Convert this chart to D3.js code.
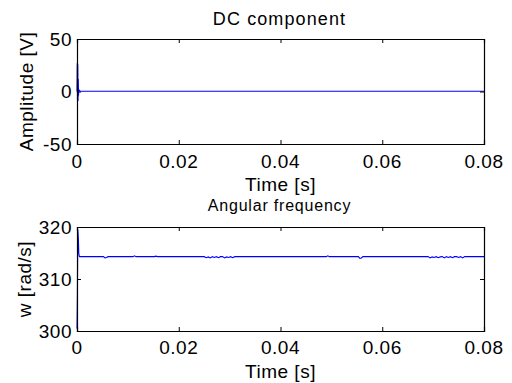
<!DOCTYPE html>
<html>
<head>
<meta charset="utf-8">
<script src="https://cdn.jsdelivr.net/npm/d3@7"></script>
<style>
  body { margin: 0; background: #fff; }
  text { font-family: "Liberation Sans", Arial, sans-serif; fill: #000; }
</style>
</head>
<body>
<div id="chart"></div>
<script>
///////////////////////////// DATA /////////////////////////////////////

// DC component (top panel)
const dcTime  = [0, 0.00005, 0.0001, 0.00015, 0.0002, 0.00025, 0.0003, 0.00035, 0.0004, 0.0006, 0.02, 0.04, 0.06, 0.08];
const dcValue = [0, 27, -8, 26, -9, 12, -4, 2, 1.2, 0.3, 0.3, 0.3, 0.3, 0.3];

// Angular frequency (bottom panel)
const wTime = [0, 0.00008, 0.00015, 0.0002, 0.00028, 0.00035, 0.0004, 0.0005, 0.0008,
  0.0052, 0.0055, 0.0058, 0.0061, 0.0110, 0.0113, 0.0116, 0.0152, 0.0155, 0.0158,
  0.0250, 0.0254, 0.0258, 0.0262, 0.0266, 0.0270, 0.0274, 0.0278, 0.0282, 0.0286, 0.0290, 0.0294, 0.0298, 0.0302, 0.0306, 0.0310, 0.0314, 0.0318,
  0.0490, 0.0493, 0.0496, 0.0553, 0.0556, 0.0559, 0.0562,
  0.0690, 0.0694, 0.0698, 0.0702, 0.0706, 0.0710, 0.0714, 0.0718, 0.0722, 0.0726, 0.0730, 0.0734, 0.0738, 0.0742, 0.0746, 0.0750, 0.0754, 0.0758, 0.0762,
  0.0800];
const wValue = [300.5, 307, 319.5, 319, 317.5, 315, 314.6, 314.3, 314.3,
  314.3, 314.05, 314.15, 314.3, 314.3, 314.45, 314.3, 314.3, 314.4, 314.3,
  314.3, 314.1, 314.25, 314.05, 314.3, 314.15, 314.3, 314.1, 314.3, 314.3, 314.05, 314.25, 314.15, 314.3, 314.1, 314.3, 314.3, 314.3,
  314.3, 314.45, 314.3, 314.3, 313.95, 314.05, 314.3,
  314.3, 314.05, 314.25, 314.15, 314.3, 314.1, 314.25, 314.3, 314.05, 314.3, 314.15, 314.3, 314.1, 314.3, 314.3, 314.15, 314.3, 314.05, 314.3,
  314.3];

const xTicks = [0, 0.02, 0.04, 0.06, 0.08];
const xTickLabels = ["0", "0.02", "0.04", "0.06", "0.08"];
const dcTicks = [-50, 0, 50];
const wTicks = [300, 310, 320];

///////////////////////////// CHART OPTIONS /////////////////////////////////////

width = 512;
height = 383;
plotLeft = 77;
plotRight = 484;
tickLen = 4;
lineColor = "#0000ff";
labelSize = "19px";
labelSpacing = "0.5px";

svg = d3.select("#chart").append("svg")
    .attr("width", width)
    .attr("height", height);

svg.append("rect").attr("width", width).attr("height", height).attr("fill", "#fff");

function panel(opts) {
    var xScale = d3.scaleLinear().domain([0, 0.08]).range([plotLeft, plotRight]);
    var yScale = d3.scaleLinear().domain(opts.yDomain).range([opts.bottom, opts.top]);

    var g = svg.append("g");

    // data line
    var pts = opts.t.map((t, i) => [t, opts.v[i]]);
    var line = d3.line().x(d => xScale(d[0])).y(d => yScale(d[1]));
    g.append("path")
        .attr("d", line(pts))
        .attr("fill", "none")
        .attr("stroke", lineColor)
        .attr("stroke-width", 1.1);

    // axes (ticks pointing inward, box all round)
    var xb = d3.axisTop(xScale).tickValues(xTicks).tickSize(tickLen).tickFormat("");
    var xt = d3.axisBottom(xScale).tickValues(xTicks).tickSize(tickLen).tickFormat("");
    var yl = d3.axisRight(yScale).tickValues(opts.yTicks).tickSize(tickLen).tickFormat("");
    var yr = d3.axisLeft(yScale).tickValues(opts.yTicks).tickSize(tickLen).tickFormat("");

    [[xb, `translate(0,${opts.bottom})`], [xt, `translate(0,${opts.top})`],
     [yl, `translate(${plotLeft},0)`], [yr, `translate(${plotRight},0)`]].forEach(function(a) {
        var ax = g.append("g").attr("transform", a[1]).call(a[0]);
        ax.select(".domain").attr("stroke", "#000").attr("stroke-width", 1.2);
        ax.selectAll(".tick line").attr("stroke", "#000");
    });

    // tick labels
    g.selectAll(".xlab").data(xTicks).enter().append("text")
        .attr("x", d => xScale(d))
        .attr("y", opts.bottom + opts.tickLabelDy)
        .attr("text-anchor", "middle")
        .style("font-size", labelSize)
        .style("letter-spacing", labelSpacing)
        .text((d, i) => xTickLabels[i]);

    g.selectAll(".ylab").data(opts.yTicks).enter().append("text")
        .attr("x", plotLeft - 5)
        .attr("y", d => yScale(d))
        .attr("dy", "0.36em")
        .attr("text-anchor", "end")
        .style("font-size", labelSize)
        .style("letter-spacing", labelSpacing)
        .text(d => d);

    // titles and labels
    g.append("text")
        .attr("x", (plotLeft + plotRight) / 2 - 1)
        .attr("y", opts.titleY)
        .attr("text-anchor", "middle")
        .style("font-size", opts.titleSize)
        .style("letter-spacing", opts.titleSpacing)
        .text(opts.title);

    g.append("text")
        .attr("x", (plotLeft + plotRight) / 2)
        .attr("y", opts.bottom + 46.5)
        .attr("text-anchor", "middle")
        .style("font-size", labelSize)
        .style("letter-spacing", labelSpacing)
        .text("Time [s]");

    g.append("text")
        .attr("transform", `translate(${opts.yLabelX},${(opts.top + opts.bottom) / 2}) rotate(-90)`)
        .attr("text-anchor", "middle")
        .style("font-size", labelSize)
        .style("letter-spacing", labelSpacing)
        .text(opts.yLabel);
}

panel({ t: dcTime, v: dcValue, yDomain: [-50, 50], yTicks: dcTicks, top: 39, bottom: 144, tickLabelDy: 24,
        title: "DC component", titleY: 25, titleSize: "18px", titleSpacing: "1.1px",
        yLabel: "Amplitude [V]", yLabelX: 33 });

panel({ t: wTime, v: wValue, yDomain: [300, 320], yTicks: wTicks, top: 227, bottom: 331, tickLabelDy: 22.5,
        title: "Angular frequency", titleY: 211, titleSize: "16px", titleSpacing: "0.8px",
        yLabel: "w [rad/s]", yLabelX: 31 });
</script>
</body>
</html>
